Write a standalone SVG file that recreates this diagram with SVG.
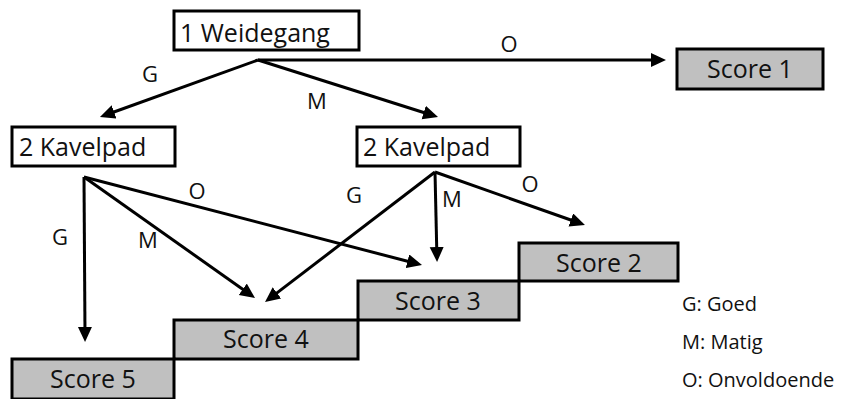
<svg xmlns="http://www.w3.org/2000/svg" width="843" height="399" viewBox="0 0 843 399">
<style>
.box{fill:#fff;stroke:#000;stroke-width:3}
.score{fill:#c0c0c0;stroke:#000;stroke-width:3}
.t{font-family:"Open Sans","Liberation Sans",sans-serif;font-size:25px;fill:#111}
.c{text-anchor:middle}
.lab{font-family:"Open Sans","Liberation Sans",sans-serif;font-size:22px;fill:#111;text-anchor:middle}
.leg{font-family:"Open Sans","Liberation Sans",sans-serif;font-size:20px;fill:#111}
.e{stroke:#000;stroke-width:3;fill:none;marker-end:url(#ah)}
</style>
<defs>
<marker id="ah" markerUnits="userSpaceOnUse" markerWidth="16" markerHeight="15" refX="9" refY="7" orient="auto">
<path d="M0,0 L15,7 L0,14 Z" fill="#000"/>
</marker>
</defs>
<g id="connectors">
<line class="e" x1="258" y1="60" x2="660" y2="60"/>
<line class="e" x1="258" y1="60" x2="105.6" y2="115"/>
<line class="e" x1="258" y1="60" x2="432.3" y2="115.2"/>
<line class="e" x1="84" y1="177" x2="85" y2="336"/>
<line class="e" x1="84" y1="177" x2="250.1" y2="294.5"/>
<line class="e" x1="84" y1="177" x2="416.2" y2="263.5"/>
<line class="e" x1="435" y1="172" x2="269.8" y2="298.4"/>
<line class="e" x1="435" y1="172" x2="436.9" y2="256"/>
<line class="e" x1="435" y1="172" x2="579.3" y2="223"/>
<text class="lab" x="509" y="52">O</text>
<text class="lab" x="150" y="82">G</text>
<text class="lab" x="317" y="109">M</text>
<text class="lab" x="60" y="245">G</text>
<text class="lab" x="148" y="248">M</text>
<text class="lab" x="197" y="199">O</text>
<text class="lab" x="354" y="203">G</text>
<text class="lab" x="452" y="207">M</text>
<text class="lab" x="530" y="192">O</text>
</g>
<g id="weidegang">
<rect class="box" x="174" y="11" width="185" height="39"/>
<text class="t" x="180" y="42">1 Weidegang</text>
</g>
<g id="kavelpad-left">
<rect class="box" x="12" y="127" width="163" height="39"/>
<text class="t" x="19" y="156">2 Kavelpad</text>
</g>
<g id="kavelpad-right">
<rect class="box" x="357" y="127" width="163" height="39"/>
<text class="t" x="363" y="156">2 Kavelpad</text>
</g>
<g id="score1">
<rect class="score" x="677" y="49" width="146" height="40"/>
<text class="t c" x="750" y="78">Score 1</text>
</g>
<g id="score2">
<rect class="score" x="519" y="243" width="159" height="38"/>
<text class="t c" x="599" y="272">Score 2</text>
</g>
<g id="score3">
<rect class="score" x="358" y="281" width="161" height="39"/>
<text class="t c" x="438" y="310">Score 3</text>
</g>
<g id="score4">
<rect class="score" x="174" y="320" width="184" height="39"/>
<text class="t c" x="266" y="348">Score 4</text>
</g>
<g id="score5">
<rect class="score" x="12" y="359" width="162" height="40"/>
<text class="t c" x="93" y="388">Score 5</text>
</g>
<g id="legend">
<text class="leg" x="682" y="311">G: Goed</text>
<text class="leg" x="682" y="349">M: Matig</text>
<text class="leg" x="682" y="387">O: Onvoldoende</text>
</g>
</svg>
